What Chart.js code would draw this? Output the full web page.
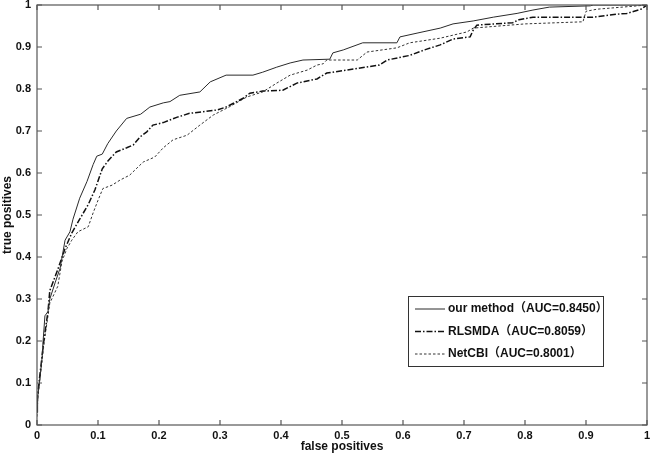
<!DOCTYPE html>
<html>
<head>
<meta charset="utf-8">
<script src="https://cdn.jsdelivr.net/npm/chart.js@4"></script>
<style>
  html, body { margin: 0; padding: 0; background: #fff; }
  #wrap { width: 660px; height: 455px; }
</style>
</head>
<body>
<div id="wrap"><canvas id="c" width="660" height="455"></canvas></div>
<script>
const seriesNames = ['our method（AUC=0.8450）', 'RLSMDA（AUC=0.8059）', 'NetCBI（AUC=0.8001）'];
const xTicks = [0, 0.1, 0.2, 0.3, 0.4, 0.5, 0.6, 0.7, 0.8, 0.9, 1];
const yTicks = [0, 0.1, 0.2, 0.3, 0.4, 0.5, 0.6, 0.7, 0.8, 0.9, 1];

const ourFpr = [0, 0.001, 0.004, 0.008, 0.01, 0.013, 0.018, 0.021, 0.03, 0.038, 0.046, 0.054, 0.059, 0.07, 0.082, 0.092, 0.098, 0.107, 0.116, 0.13, 0.147, 0.17, 0.185, 0.207, 0.218, 0.234, 0.267, 0.284, 0.31, 0.354, 0.37, 0.393, 0.415, 0.436, 0.48, 0.485, 0.502, 0.534, 0.59, 0.595, 0.623, 0.661, 0.682, 0.715, 0.748, 0.787, 0.813, 0.84, 0.907, 0.912, 1];
const ourTpr = [0.03, 0.067, 0.1, 0.155, 0.2, 0.26, 0.27, 0.3, 0.34, 0.374, 0.44, 0.46, 0.49, 0.54, 0.58, 0.62, 0.64, 0.645, 0.67, 0.70, 0.73, 0.74, 0.757, 0.767, 0.77, 0.785, 0.793, 0.817, 0.833, 0.833, 0.84, 0.852, 0.862, 0.869, 0.871, 0.886, 0.893, 0.91, 0.91, 0.924, 0.933, 0.945, 0.955, 0.962, 0.971, 0.98, 0.988, 0.995, 0.998, 1, 1];

const rlsFpr = [0, 0.001, 0.004, 0.008, 0.012, 0.018, 0.021, 0.034, 0.046, 0.057, 0.07, 0.084, 0.095, 0.107, 0.117, 0.13, 0.147, 0.158, 0.169, 0.18, 0.19, 0.207, 0.23, 0.25, 0.295, 0.31, 0.338, 0.349, 0.37, 0.403, 0.426, 0.459, 0.475, 0.53, 0.561, 0.574, 0.611, 0.639, 0.661, 0.682, 0.71, 0.715, 0.721, 0.78, 0.79, 0.813, 0.911, 0.95, 0.967, 0.99, 1];
const rlsTpr = [0.03, 0.07, 0.11, 0.16, 0.21, 0.27, 0.32, 0.37, 0.42, 0.457, 0.49, 0.525, 0.56, 0.61, 0.63, 0.65, 0.66, 0.667, 0.686, 0.698, 0.714, 0.72, 0.733, 0.742, 0.75, 0.757, 0.778, 0.79, 0.795, 0.797, 0.814, 0.824, 0.838, 0.85, 0.857, 0.869, 0.88, 0.895, 0.905, 0.919, 0.924, 0.94, 0.952, 0.958, 0.965, 0.971, 0.971, 0.978, 0.98, 0.99, 1];

const netFpr = [0, 0.001, 0.004, 0.008, 0.012, 0.017, 0.021, 0.034, 0.041, 0.049, 0.057, 0.067, 0.084, 0.092, 0.1, 0.108, 0.123, 0.136, 0.152, 0.164, 0.174, 0.193, 0.207, 0.223, 0.246, 0.267, 0.289, 0.316, 0.344, 0.37, 0.393, 0.415, 0.443, 0.459, 0.469, 0.475, 0.525, 0.541, 0.59, 0.611, 0.661, 0.705, 0.715, 0.8, 0.895, 0.9, 0.918, 0.96, 1];
const netTpr = [0.02, 0.06, 0.1, 0.15, 0.2, 0.25, 0.29, 0.33, 0.39, 0.42, 0.44, 0.46, 0.472, 0.505, 0.535, 0.563, 0.571, 0.583, 0.595, 0.612, 0.626, 0.638, 0.66, 0.679, 0.69, 0.714, 0.738, 0.758, 0.781, 0.793, 0.814, 0.833, 0.845, 0.857, 0.86, 0.869, 0.869, 0.888, 0.898, 0.91, 0.921, 0.936, 0.945, 0.955, 0.96, 0.985, 0.99, 0.995, 1];

const FONT = "'Liberation Sans', Arial, 'Noto Sans CJK SC', sans-serif";
const toPts = (xs, ys) => xs.map((x, i) => ({ x: x, y: ys[i] }));

const styles = [
  { color: '#2a2a2a', width: 1, dash: [] },
  { color: '#111111', width: 1.5, dash: [6, 2, 1.5, 2] },
  { color: '#333333', width: 1, dash: [2.5, 2] }
];

const frameTicks = {
  id: 'frameTicks',
  afterDraw(chart) {
    const { ctx, chartArea: { left, right, top, bottom }, scales: { x, y } } = chart;
    ctx.save();
    ctx.strokeStyle = '#555';
    ctx.lineWidth = 1.2;
    ctx.setLineDash([]);
    ctx.strokeRect(left, top, right - left, bottom - top);
    const L = 5;
    ctx.beginPath();
    xTicks.forEach(v => {
      const px = x.getPixelForValue(v);
      ctx.moveTo(px, bottom); ctx.lineTo(px, bottom - L);
      ctx.moveTo(px, top); ctx.lineTo(px, top + L);
    });
    yTicks.forEach(v => {
      const py = y.getPixelForValue(v);
      ctx.moveTo(left, py); ctx.lineTo(left + L, py);
      ctx.moveTo(right, py); ctx.lineTo(right - L, py);
    });
    ctx.stroke();

    // legend box
    const bx = 408, by = 296, bw = 195, bh = 70;
    ctx.fillStyle = '#fff';
    ctx.fillRect(bx, by, bw, bh);
    ctx.strokeStyle = '#333';
    ctx.lineWidth = 1;
    ctx.strokeRect(bx + 0.5, by + 0.5, bw, bh);
    ctx.font = 'bold 12px ' + FONT;
    ctx.textBaseline = 'middle';
    ctx.fillStyle = '#111';
    seriesNames.forEach((name, i) => {
      const ry = by + 13 + i * 22.5;
      const s = styles[i];
      ctx.strokeStyle = s.color;
      ctx.lineWidth = s.width;
      ctx.setLineDash(s.dash);
      ctx.beginPath();
      ctx.moveTo(bx + 7, ry); ctx.lineTo(bx + 37, ry);
      ctx.stroke();
      ctx.setLineDash([]);
      ctx.fillText(name, bx + 40, ry);
    });
    ctx.restore();
  }
};

const datasets = [
  { label: seriesNames[0], data: toPts(ourFpr, ourTpr) },
  { label: seriesNames[1], data: toPts(rlsFpr, rlsTpr) },
  { label: seriesNames[2], data: toPts(netFpr, netTpr) }
].map((d, i) => Object.assign(d, {
  showLine: true,
  borderColor: styles[i].color,
  borderWidth: styles[i].width,
  borderDash: styles[i].dash,
  pointRadius: 0,
  fill: false,
  tension: 0
}));

const zeroPad = s => { s.paddingTop = 0; s.paddingBottom = 0; s.paddingLeft = 0; s.paddingRight = 0; };

new Chart(document.getElementById('c'), {
  type: 'scatter',
  data: { datasets },
  options: {
    responsive: false,
    animation: false,
    devicePixelRatio: 1,
    layout: { padding: { left: 0, top: 5, right: 13, bottom: 0 } },
    plugins: { legend: { display: false }, tooltip: { enabled: false } },
    scales: {
      x: {
        type: 'linear', min: 0, max: 1,
        afterBuildTicks: s => { s.ticks = xTicks.map(v => ({ value: v })); },
        afterFit: s => { s.height = 30; zeroPad(s); },
        grid: { display: false, drawTicks: false },
        border: { display: false },
        ticks: { color: '#111', padding: 4, font: { family: FONT, size: 11, weight: 'bold' }, callback: v => String(v), maxRotation: 0, autoSkip: false },
        title: { display: true, text: 'false positives', color: '#111', padding: { top: 0, bottom: 1 }, font: { family: FONT, size: 12, weight: 'bold' } }
      },
      y: {
        type: 'linear', min: 0, max: 1,
        afterBuildTicks: s => { s.ticks = yTicks.map(v => ({ value: v })); },
        afterFit: s => { s.width = 37; zeroPad(s); },
        grid: { display: false, drawTicks: false },
        border: { display: false },
        ticks: { color: '#111', padding: 6, font: { family: FONT, size: 11, weight: 'bold' }, callback: v => String(v), autoSkip: false },
        title: { display: true, text: 'true positives', color: '#111', padding: { top: 0, bottom: 0 }, font: { family: FONT, size: 12, weight: 'bold' } }
      }
    }
  },
  plugins: [frameTicks]
});
</script>
</body>
</html>
